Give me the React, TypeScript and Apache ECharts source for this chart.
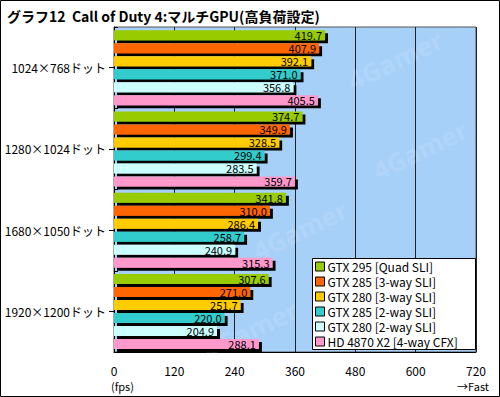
import React, { useEffect, useRef } from "react";
import * as echarts from "echarts";

const title = "グラフ12  Call of Duty 4:マルチGPU(高負荷設定)";
const categories = ["1024×768ドット", "1280×1024ドット", "1680×1050ドット", "1920×1200ドット"];
const seriesNames = [
  "GTX 295 [Quad SLI]",
  "GTX 285 [3-way SLI]",
  "GTX 280 [3-way SLI]",
  "GTX 285 [2-way SLI]",
  "GTX 280 [2-way SLI]",
  "HD 4870 X2 [4-way CFX]",
];
const gtx295Quad = [419.7, 374.7, 341.8, 307.6];
const gtx285Three = [407.9, 349.9, 310.0, 271.0];
const gtx280Three = [392.1, 328.5, 286.4, 251.7];
const gtx285Two = [371.0, 299.4, 258.7, 220.0];
const gtx280Two = [356.8, 283.5, 240.9, 204.9];
const hd4870Cfx = [405.5, 359.7, 315.3, 288.1];
const seriesValues = [gtx295Quad, gtx285Three, gtx280Three, gtx285Two, gtx280Two, hd4870Cfx];
const colors = ["#99cc00", "#ff6600", "#ffcc00", "#33cccc", "#ccffff", "#ff99cc"];

const FONT = '"Noto Sans CJK JP", "Noto Sans", sans-serif';

export default function App() {
  const ref = useRef<HTMLDivElement>(null);
  useEffect(() => {
    if (!ref.current) return;
    const chart = echarts.init(ref.current, null, { renderer: "svg" });
    const series = seriesNames.map((name, i) => ({
      name,
      type: "bar",
      data: seriesValues[i],
      barWidth: 10,
      barGap: "30%",
      itemStyle: {
        color: colors[i],
        shadowColor: "#000",
        shadowBlur: 0,
        shadowOffsetX: 3,
        shadowOffsetY: 3,
      },
      label: {
        show: true,
        position: "insideRight",
        distance: 3,
        color: "#000",
        fontFamily: FONT,
        fontSize: 11,
        lineHeight: 11,
        formatter: (p: any) => Number(p.value).toFixed(1),
      },
    }));
    const watermarks = [
      [395, 60], [420, 150], [300, 230], [250, 330],
    ].map(([x, y]) => ({
      type: "text",
      x,
      y,
      rotation: Math.PI / 7,
      z: 1,
      silent: true,
      style: {
        text: "4Gamer",
        fill: "rgba(255,255,255,0.12)",
        font: 'bold 26px "Noto Sans", sans-serif',
        align: "center",
        verticalAlign: "middle",
      },
    }));
    chart.setOption({
      animation: false,
      textStyle: { fontFamily: FONT },
      grid: {
        left: 114,
        right: 24,
        top: 27,
        bottom: 45,
        show: true,
        backgroundColor: "#a6d0f8",
        borderColor: "#555",
        borderWidth: 1,
      },
      xAxis: {
        type: "value",
        min: 0,
        max: 720,
        interval: 120,
        axisLine: { show: true, lineStyle: { color: "#000" } },
        axisTick: { show: false },
        axisLabel: { color: "#000", fontSize: 12, margin: 12, fontFamily: FONT },
        splitLine: { show: true, lineStyle: { color: "#222", width: 1 } },
      },
      yAxis: [
        {
          type: "category",
          data: categories,
          inverse: true,
          axisLine: { show: true, lineStyle: { color: "#000" } },
          axisTick: { show: true, alignWithLabel: true, length: 5, lineStyle: { color: "#000" } },
          axisLabel: { color: "#000", fontSize: 12, margin: 8, fontFamily: FONT },
        },
        {
          type: "category",
          data: categories,
          inverse: true,
          position: "left",
          axisLine: { show: false },
          axisTick: { show: true, inside: true, length: 4, lineStyle: { color: "#000" } },
          axisLabel: { show: false },
        },
      ],
      legend: {
        orient: "vertical",
        left: 312,
        top: 258,
        padding: [1, 0, 0, 3],
        itemWidth: 9,
        itemHeight: 9,
        itemGap: 0,
        icon: "rect",
        data: seriesNames,
        itemStyle: { borderColor: "#000", borderWidth: 1, shadowBlur: 0, shadowOffsetX: 0, shadowOffsetY: 0, shadowColor: "transparent" },
        textStyle: { color: "#000", fontSize: 12, lineHeight: 15, padding: [0, 0, 0, -2], fontFamily: FONT },
      },
      graphic: [
        ...watermarks,
        {
          type: "rect",
          z: 3,
          shape: { x: 312.5, y: 258.5, width: 163, height: 91 },
          style: { fill: "#fff", stroke: "#000", lineWidth: 1 },
          silent: true,
        },
        {
          type: "rect",
          shape: { x: 0.5, y: 0.5, width: 499, height: 396 },
          style: { fill: "none", stroke: "#000", lineWidth: 1 },
          silent: true,
        },
        {
          type: "text",
          x: 7,
          y: 16,
          style: {
            text: title,
            fill: "#000",
            font: `bold 14px ${FONT}`,
            verticalAlign: "middle",
          },
        },
        {
          type: "text",
          x: 111,
          y: 386,
          style: { text: "(fps)", fill: "#000", font: `11px ${FONT}`, verticalAlign: "middle" },
        },
        {
          type: "text",
          x: 489,
          y: 386,
          style: { text: "→Fast", fill: "#000", font: `11px ${FONT}`, align: "right", verticalAlign: "middle" },
        },
      ],
      series,
    });
    return () => chart.dispose();
  }, []);
  return (
    <div
      ref={ref}
      style={{ position: "absolute", left: 0, top: 0, width: 500, height: 397, background: "#fff" }}
    />
  );
}
